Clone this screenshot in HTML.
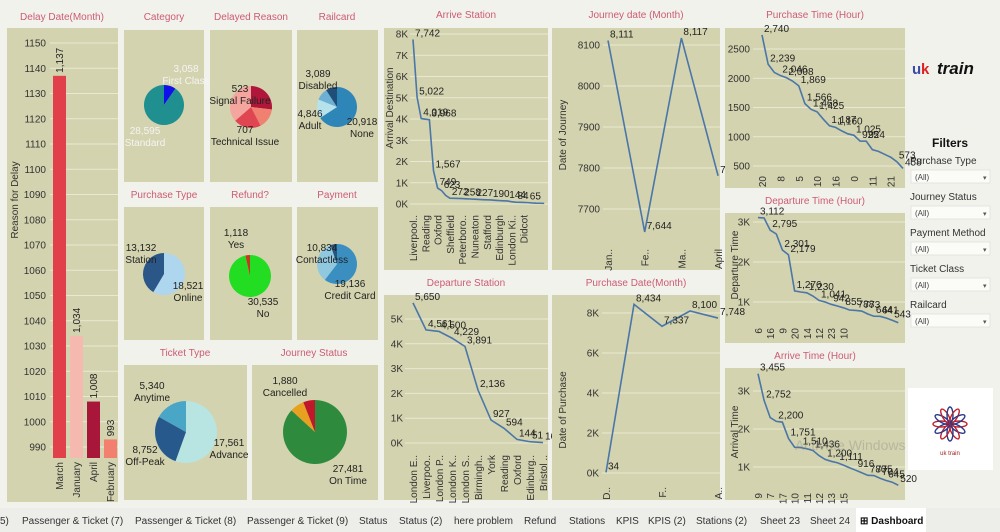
<!DOCTYPE html>
<html><head><meta charset="utf-8">
<style>
html,body{margin:0;padding:0;background:#f2f2ed;width:1000px;height:532px;overflow:hidden}
svg{display:block;font-family:"Liberation Sans",sans-serif}
.t{fill:#cc5b72;font-size:10px;text-anchor:middle}
.ax{font-size:10px}
.v{font-size:10px}
</style></head>
<body>
<svg id="dash" width="1000" height="532" viewBox="0 0 1000 532"></svg>
<script>
// ---- data ----
const delayMonths=["March","January","April","February"];
const delayValues=[1137,1034,1008,993];
const delayTicks=[990,1000,1010,1020,1030,1040,1050,1060,1070,1080,1090,1100,1110,1120,1130,1140,1150];

const categoryLabels=["First Class","Standard"];
const categoryValues=[3058,28595];
const reasonLabels=["Signal Failure","Weather","Staff Shortage","Technical Issue"];
const reasonValues=[523,302,410,707];
const railcardLabels=["None","Adult","Disabled","Senior"];
const railcardValues=[20918,4846,3089,2890];
const purchaseTypeLabels=["Online","Station"];
const purchaseTypeValues=[18521,13132];
const refundLabels=["No","Yes"];
const refundValues=[30535,1118];
const paymentLabels=["Credit Card","Contactless","Debit Card"];
const paymentValues=[19136,10834,1683];
const ticketLabels=["Advance","Off-Peak","Anytime"];
const ticketValues=[17561,8752,5340];
const statusLabels=["On Time","Delayed","Cancelled"];
const statusValues=[27481,2292,1880];

const arriveStations=["Liverpool Lime Street","York","Manchester Piccadilly","Reading","London Euston","Birmingham New Street","Oxford","London Paddington","Crewe","Sheffield","Bristol Temple Meads","Durham","Peterborough","Warrington","Leeds","Nuneaton","Coventry","Wakefield","Stafford","Cardiff Central","Swindon","Edinburgh","Doncaster","Tamworth","London Kings Cross","Didcot Parkway","Wigan","Didcot","Wolverhampton","Leicester","Lincoln","London St Pancras","Derby"];
const arriveStationValues=[7742,5022,4019,3990,3968,1567,749,623,400,272,268,262,258,245,235,227,215,205,198,190,175,160,150,144,110,84,80,72,65,50,40,35,30];
const arriveStationPrinted=[0,1,2,4,5,6,7,9,12,15,19,23,25,28];

const journeyMonths=["January","February","March","April"];
const journeyValues=[8111,7644,8117,7781];
const journeyTicks=[7700,7800,7900,8000,8100];

const purchaseHours=[20,18,17,8,7,9,5,19,6,10,15,13,16,14,1,0,2,3,11,12,22,21,4,23];
const purchaseHourValues=[2740,2239,2100,2046,2008,1950,1869,1566,1468,1425,1300,1187,1160,1100,1050,1025,925,924,780,750,700,650,573,458];
const purchasePrinted=[0,1,3,4,6,7,8,9,11,12,15,16,17,22,23];
const purchaseTicks=[500,1000,1500,2000,2500];

const departureHours=[6,8,16,7,9,17,20,18,14,19,12,13,23,15,10,11,21,5,22,4,3,2,1,0];
const departureHourValues=[3112,3100,2795,2700,2301,2179,1276,1250,1230,1150,1041,1000,942,900,855,800,788,773,700,644,641,600,543,480];
const departurePrinted=[0,2,4,5,6,8,10,12,14,16,17,19,20,22];
const departureTicks=[1000,2000,3000];

const arriveHours=[9,8,7,18,17,19,10,20,11,16,12,21,13,14,15,22,6,23,5,0,4,1,3,2];
const arriveHourValues=[3455,2752,2300,2200,2180,1751,1520,1510,1480,1436,1300,1200,1150,1111,1050,980,916,850,780,775,704,645,600,520];
const arrivePrinted=[0,1,3,5,7,9,11,13,16,18,19,20,21,23];
const arriveTicks=[1000,2000,3000];

const depStations=["London Euston","Liverpool Lime Street","London Paddington","London Kings Cross","London St Pancras","Birmingham New Street","York","Reading","Oxford","Edinburgh Waverley","Bristol Temple Meads"];
const depStationValues=[5650,4561,4500,4229,3891,2136,927,594,144,51,16];
const depTicks=[0,1000,2000,3000,4000,5000];

const purchaseMonths=["December","January","February","March","April"];
const purchaseMonthValues=[34,8434,7337,8100,7748];
const purchaseMonthTicks=[0,2000,4000,6000,8000];

// ---- helpers ----
const svg=document.getElementById('dash');
const NS='http://www.w3.org/2000/svg';
function mk(tag,attrs,parent){const e=document.createElementNS(NS,tag);for(const k in attrs)e.setAttribute(k,attrs[k]);(parent||svg).appendChild(e);return e;}
function txt(x,y,s,cls,extra,parent){
  extra=Object.assign({},extra||{});
  let st='';
  ['fill','font-size','font-weight','font-style'].forEach(k=>{if(extra[k]!==undefined){st+=k+':'+extra[k]+';';delete extra[k];}});
  if(cls!=='t'&&st.indexOf('fill')<0)st+='fill:'+(cls==='ax'?'#333':'#222')+';';
  const e=mk('text',Object.assign({x:x,y:y,class:cls,style:st},extra),parent);e.textContent=s;return e;}
function fmt(v){return v.toLocaleString('en-US');}
function kfmt(v){return (v/1000)+'K';}
function trunc(s,n){return s.length>n?s.slice(0,n)+'..':s;}
const PANEL='#d3d3af';
function panel(x,y,w,h,name,title,tx,ty){
  const r=mk('rect',{x:x,y:y,width:w,height:h,fill:PANEL});
  
  
  if(title){const t=txt(tx,ty,title,'t');
    
    }
}
function grid(x1,x2,y){mk('line',{x1:x1,x2:x2,y1:y,y2:y,stroke:'#e9e9d2','stroke-width':1});}
function rotLabel(x,y,s,cls){return txt(x,y,s,cls,{'text-anchor':'end',transform:'rotate(-90 '+x+' '+y+')'});}

// ---- bar chart ----
panel(7,28,111,474,'delay-month','Delay Date(Month)',62,20);
const barY=v=>447-(v-990)*2.525;
delayTicks.forEach(v=>{grid(50,118,barY(v));const t=txt(46,barY(v)+3.5,v,'ax',{'text-anchor':'end'});
  
  });
const barColors=['#e1404a','#f6b9b0','#a8173a','#f3806f'];
delayValues.forEach((v,i)=>{
  const x=53+i*17,top=barY(v);
  const b=mk('rect',{x:x,y:top,width:13,height:458-top,fill:barColors[i]});
  
  
  const vl=txt(x+10,top-3,fmt(v),'v',{'text-anchor':'start',transform:'rotate(-90 '+(x+10)+' '+(top-3)+')'});
  
  
  const xl=rotLabel(x+10,462,delayMonths[i],'ax');
  
  
});
const yt=txt(18,200,'Reason for Delay','ax',{'text-anchor':'middle',transform:'rotate(-90 18 200)'});



// ---- pies ----
function pie(name,cx,cy,r,vals,cols,labels){
  const tot=vals.reduce((a,b)=>a+b,0);let a=-Math.PI/2;
  vals.forEach((v,i)=>{
    const a2=a+v/tot*2*Math.PI;const large=(a2-a)>Math.PI?1:0;
    const d='M'+cx+' '+cy+' L'+(cx+r*Math.cos(a))+' '+(cy+r*Math.sin(a))+' A'+r+' '+r+' 0 '+large+' 1 '+(cx+r*Math.cos(a2))+' '+(cy+r*Math.sin(a2))+' Z';
    const p=mk('path',{d:d,fill:cols[i]});
    
    
    a=a2;});
}
function plabel(x,y,val,lab,fill){
  const g=mk('g',{});
  
  
  txt(x,y,fmt(val),'v',{'text-anchor':'middle',fill:fill||'#222'},g);
  txt(x,y+12,lab,'v',{'text-anchor':'middle',fill:fill||'#222'},g);
}
panel(124,30,80,152,'category','Category',164,20);
pie('category',164,105,20,categoryValues,['#1010e8','#1f8f90'],categoryLabels);
plabel(186,72,categoryValues[0],categoryLabels[0],'#f4f4f4');
plabel(145,134,categoryValues[1],categoryLabels[1],'#f4f4f4');

panel(210,30,82,152,'delayed-reason','Delayed Reason',251,20);
pie('reason',251,107,21,reasonValues,['#b0163a','#f08070','#e04552','#f4a69e'],reasonLabels);
plabel(240,92,reasonValues[0],reasonLabels[0]);
plabel(245,133,reasonValues[3],reasonLabels[3]);

panel(297,30,81,152,'railcard','Railcard',337,20);
pie('railcard',337,107,20,railcardValues,['#2e86b8','#b6e2ec','#6cb0d4','#1f4e79'],railcardLabels);
plabel(318,77,railcardValues[2],railcardLabels[2]);
plabel(310,117,railcardValues[1],railcardLabels[1]);
plabel(362,125,railcardValues[0],railcardLabels[0]);

panel(124,207,80,133,'purchase-type','Purchase Type',164,198);
pie('purchase-type',164,274,21,purchaseTypeValues,['#aed6ee','#2a5788'],purchaseTypeLabels);
plabel(141,251,purchaseTypeValues[1],purchaseTypeLabels[1]);
plabel(188,289,purchaseTypeValues[0],purchaseTypeLabels[0]);

panel(210,207,82,133,'refund','Refund?',250,198);
pie('refund',250,276,21,refundValues,['#22dd22','#c03a20'],refundLabels);
plabel(236,236,refundValues[1],refundLabels[1]);
plabel(263,305,refundValues[0],refundLabels[0]);

panel(297,207,81,133,'payment','Payment',337,198);
pie('payment',337,264,20,paymentValues,['#3a8fc0','#90c8e0','#25557f'],paymentLabels);
plabel(322,251,paymentValues[1],paymentLabels[1]);
plabel(350,287,paymentValues[0],paymentLabels[0]);

panel(124,365,123,135,'ticket-type','Ticket Type',185,356);
pie('ticket-type',186,432,31,ticketValues,['#b8e4e2','#28598c','#4aa6c6'],ticketLabels);
plabel(152,389,ticketValues[2],ticketLabels[2]);
plabel(145,453,ticketValues[1],ticketLabels[1]);
plabel(229,446,ticketValues[0],ticketLabels[0]);

panel(252,365,126,135,'journey-status','Journey Status',314,356);
pie('journey-status',315,432,32,statusValues,['#2e8b3e','#e8a020','#c0182a'],statusLabels);
plabel(285,384,statusValues[2],statusLabels[2]);
plabel(348,472,statusValues[0],statusLabels[0]);

// ---- line charts ----
function lineChart(c){
  c.ticks.forEach(v=>{grid(c.px1,c.px2,c.y(v));const t=txt(c.tx,c.y(v)+3.5,c.tf(v),'ax',{'text-anchor':'end'});
    
    });
  const pts=c.vals.map((v,i)=>[c.x(i),c.y(v)]);
  const pl=mk('polyline',{points:pts.map(p=>p.join(',')).join(' '),fill:'none',stroke:'#4a76a8','stroke-width':1.6});
  
  
  c.printed.forEach(i=>{const t=txt(pts[i][0]+2,pts[i][1]-3,fmt(c.vals[i]),'v');
    
    });
  c.cats.forEach((s,i)=>{if(!c.show(i))return;const t=rotLabel(c.x(i)+4,c.ly,c.cf(s),'ax');
    
    });
  if(c.title){const t=txt(c.titleX,c.titleY,c.title,'ax',{'text-anchor':'middle',transform:'rotate(-90 '+c.titleX+' '+c.titleY+')'});
    
    }
}
panel(384,28,164,242,'arrive-station','Arrive Station',466,18);
lineChart({name:'arrive-station',vals:arriveStationValues,cats:arriveStations,printed:arriveStationPrinted,
  x:i=>413+i*4.1,y:v=>204-v*0.02125,ticks:[0,1000,2000,3000,4000,5000,6000,7000,8000],tf:kfmt,tx:408,px1:410,px2:548,
  show:i=>i%3===0&&i<30,cf:s=>trunc(s,9),ly:215,title:'Arrival Destination',titleX:393,titleY:108});

panel(552,28,168,242,'journey-date','Journey date (Month)',636,18);
lineChart({name:'journey-date',vals:journeyValues,cats:journeyMonths,printed:[0,1,2,3],
  x:i=>608+i*36.7,y:v=>45+(8100-v)*0.41,ticks:journeyTicks,tf:v=>v,tx:600,px1:603,px2:720,
  show:i=>true,cf:s=>s==='April'?s:s.slice(0,s==='January'?3:2)+'..',ly:249,title:'Date of Journey',titleX:566,titleY:135});

panel(725,28,180,160,'purchase-time','Purchase Time (Hour)',815,18);
lineChart({name:'purchase-time',vals:purchaseHourValues,cats:purchaseHours,printed:purchasePrinted,
  x:i=>762+i*6.13,y:v=>166-(v-500)*0.0585,ticks:purchaseTicks,tf:v=>v,tx:750,px1:753,px2:905,
  show:i=>i%3===0,cf:s=>String(s),ly:176});

panel(725,213,180,130,'departure-time','Departure Time (Hour)',815,204);
lineChart({name:'departure-time',vals:departureHourValues,cats:departureHours,printed:departurePrinted,
  x:i=>758+i*6.1,y:v=>222+(3000-v)*0.04,ticks:departureTicks,tf:kfmt,tx:750,px1:753,px2:905,
  show:i=>i%2===0&&i<16,cf:s=>String(s),ly:328,title:'Departure Time',titleX:738,titleY:265});

panel(725,368,180,132,'arrive-time','Arrive Time (Hour)',815,359);
lineChart({name:'arrive-time',vals:arriveHourValues,cats:arriveHours,printed:arrivePrinted,
  x:i=>758+i*6.1,y:v=>391+(3000-v)*0.038,ticks:arriveTicks,tf:kfmt,tx:750,px1:753,px2:905,
  show:i=>i%2===0&&i<16,cf:s=>String(s),ly:493,title:'Arrival Time',titleX:738,titleY:432});

panel(384,295,164,205,'departure-station','Departure Station',466,286);
lineChart({name:'departure-station',vals:depStationValues,cats:depStations,printed:[0,1,2,3,4,5,6,7,8,9,10],
  x:i=>413+i*13,y:v=>443-v*0.0248,ticks:depTicks,tf:kfmt,tx:403,px1:405,px2:548,
  show:i=>true,cf:s=>trunc(s,8),ly:455});

panel(552,295,168,205,'purchase-date','Purchase Date(Month)',636,286);
lineChart({name:'purchase-date',vals:purchaseMonthValues,cats:purchaseMonths,printed:[0,1,2,3,4],
  x:i=>606+i*28,y:v=>473-v*0.02,ticks:purchaseMonthTicks,tf:kfmt,tx:599,px1:602,px2:720,
  show:i=>i%2===0,cf:s=>s[0]+'..',ly:487,title:'Date of Purchase',titleX:566,titleY:410});

// ---- right side ----
const lg=mk('g',{});


txt(912,74,'u','v',{fill:'#3a4aa8','font-size':'15px','font-weight':'bold'},lg);
txt(921,74,'k','v',{fill:'#e02020','font-size':'15px','font-weight':'bold'},lg);
txt(937,74,'train','v',{fill:'#111','font-size':'17px','font-weight':'bold','font-style':'italic'},lg);
const ft=txt(950,147,'Filters','v',{'text-anchor':'middle','font-size':'12px','font-weight':'bold',fill:'#111'});


const filters=['Purchase Type','Journey Status','Payment Method','Ticket Class','Railcard'];
filters.forEach((f,i)=>{
  const y=164+i*36;
  const l=txt(910,y,f,'v',{fill:'#333','font-size':'10px'});
  
  
  const g=mk('g',{});
  
  
  mk('rect',{x:911,y:y+6,width:79,height:13,fill:'#fbfbf8',stroke:'#e4e4e0'},g);
  txt(915,y+16,'(All)','v',{fill:'#444','font-size':'8px'},g);
  txt(983,y+16,'▾','v',{fill:'#555','font-size':'7px'},g);
});
const emb=mk('g',{});


mk('rect',{x:908,y:388,width:85,height:82,fill:'#ffffff'},emb);
for(let k=0;k<12;k++){const a=k*Math.PI/6;mk('ellipse',{cx:950+9*Math.cos(a),cy:424+9*Math.sin(a),rx:8,ry:3,fill:'none',stroke:k%2?'#2a3a8a':'#c0202a','stroke-width':1.4,transform:'rotate('+(k*30)+' '+(950+9*Math.cos(a))+' '+(424+9*Math.sin(a))+')'},emb);}
txt(950,455,'uk train','v',{'text-anchor':'middle','font-size':'6px',fill:'#a02020'},emb);
const wm=txt(795,450,'Activate Windows','v',{fill:'rgba(120,120,120,0.3)','font-size':'14px'});



// ---- tabs ----
const tb=mk('rect',{x:0,y:508,width:1000,height:24,fill:'#ededea'});


const tabs=[['5)',0],['Passenger & Ticket (7)',22],['Passenger & Ticket (8)',135],['Passenger & Ticket (9)',247],['Status',359],['Status (2)',399],['here problem',454],['Refund',524],['Stations',569],['KPIS',616],['KPIS (2)',648],['Stations (2)',696],['Sheet 23',760],['Sheet 24',810]];
tabs.forEach(t=>{const e=txt(t[1],524,t[0],'v',{fill:'#333','font-size':'10px'});
  
  });
mk('rect',{x:856,y:508,width:70,height:24,fill:'#ffffff'});
const dt=txt(860,524,'⊞ Dashboard','v',{fill:'#111','font-size':'10px','font-weight':'bold'});


</script>
</body></html>
